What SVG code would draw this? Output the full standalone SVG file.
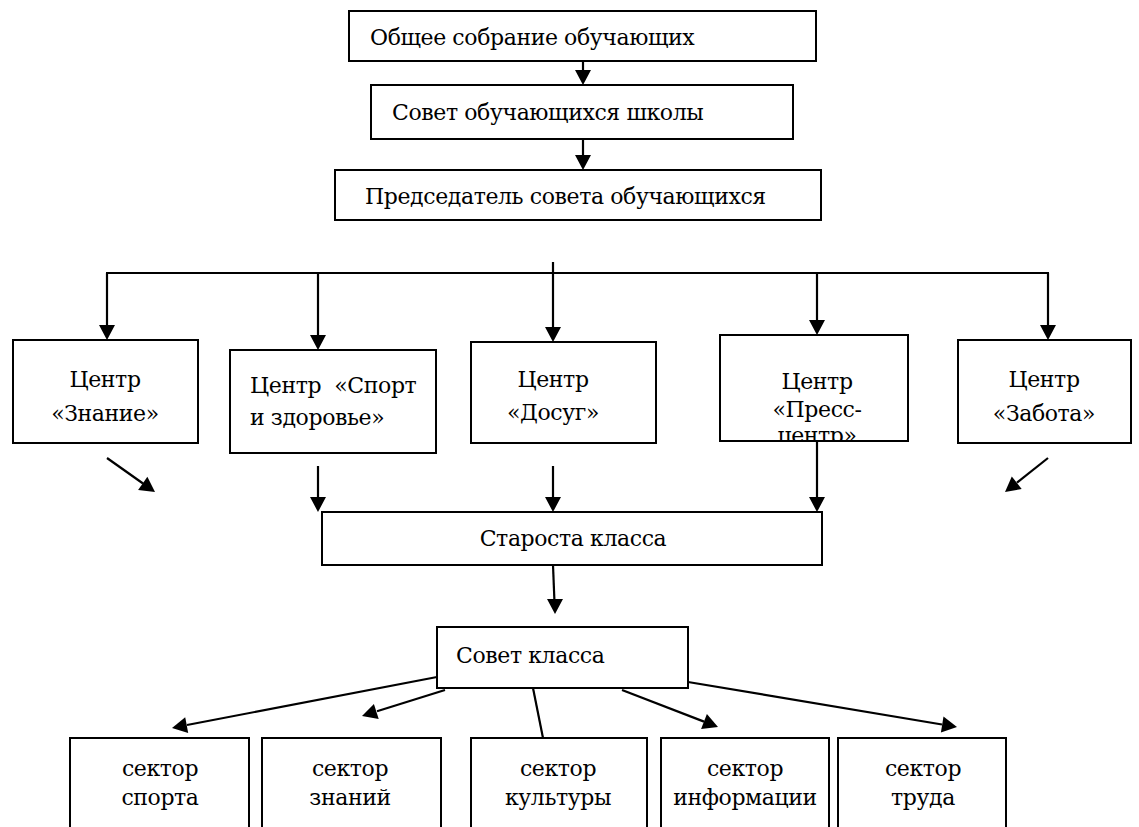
<svg xmlns="http://www.w3.org/2000/svg" width="1139" height="827" viewBox="0 0 1139 827">
<style>
.box{fill:#fff;stroke:#000;stroke-width:2}
text{font-family:'DejaVu Serif','Liberation Serif',serif;font-size:22px;letter-spacing:-0.4px;fill:#000}
.c{text-anchor:middle}
.ln{stroke:#000;stroke-width:2.2;fill:none}
.ah{fill:#000;stroke:none}
</style>
<defs>
<clipPath id="pc"><rect x="721" y="336" width="186" height="104"/></clipPath>
</defs>
<rect width="1139" height="827" fill="#fff"/>
<g id="connectors">
<line class="ln" x1="583" y1="61" x2="583" y2="71"/><polygon class="ah" points="575,70 591,70 583,85"/>
<line class="ln" x1="583" y1="139" x2="583" y2="156"/><polygon class="ah" points="575,155 591,155 583,170"/>
<line class="ln" x1="106" y1="273" x2="1049" y2="273"/>
<line class="ln" x1="553" y1="262" x2="553" y2="328"/><polygon class="ah" points="545,327 561,327 553,342"/>
<line class="ln" x1="107" y1="273" x2="107" y2="326"/><polygon class="ah" points="99,325 115,325 107,340"/>
<line class="ln" x1="318" y1="273" x2="318" y2="336"/><polygon class="ah" points="310,335 326,335 318,350"/>
<line class="ln" x1="817" y1="273" x2="817" y2="321"/><polygon class="ah" points="809,320 825,320 817,335"/>
<line class="ln" x1="1048" y1="273" x2="1048" y2="326"/><polygon class="ah" points="1040,325 1056,325 1048,340"/>
<line class="ln" x1="107" y1="458" x2="143" y2="483.5"/><polygon class="ah" points="138.1,489.9 147.4,476.8 155,492"/>
<line class="ln" x1="1048" y1="458" x2="1017" y2="482.7"/><polygon class="ah" points="1011.8,476.4 1021.7,489 1005,492"/>
<line class="ln" x1="318" y1="466" x2="318" y2="498"/><polygon class="ah" points="310,497 326,497 318,512"/>
<line class="ln" x1="553" y1="466" x2="553" y2="498"/><polygon class="ah" points="545,497 561,497 553,512"/>
<line class="ln" x1="817" y1="441" x2="817" y2="498"/><polygon class="ah" points="809,497 825,497 817,512"/>
<line class="ln" x1="553" y1="565" x2="554.4" y2="600"/><polygon class="ah" points="547,599 563,599 555,614"/>
<line class="ln" x1="437" y1="677" x2="187" y2="725"/><polygon class="ah" points="185.2,717.3 188.2,733.1 172,728"/>
<line class="ln" x1="445" y1="690" x2="377" y2="711.3"/><polygon class="ah" points="373.9,703.9 378.7,719.1 362,716"/>
<line class="ln" x1="533" y1="688" x2="543" y2="738"/>
<line class="ln" x1="622" y1="690" x2="704" y2="721.6"/><polygon class="ah" points="701.1,729.1 706.9,714.1 718,727"/>
<line class="ln" x1="688" y1="682" x2="942" y2="724.5"/><polygon class="ah" points="940.9,732.4 943.5,716.6 957,727"/>
</g>
<g id="n1"><rect class="box" x="349" y="11" width="467" height="50"/><text x="370" y="45">Общее собрание обучающих</text></g>
<g id="n2"><rect class="box" x="371" y="85" width="422" height="54"/><text x="392" y="120">Совет обучающихся школы</text></g>
<g id="n3"><rect class="box" x="335" y="170" width="486" height="50"/><text x="365" y="204">Председатель совета обучающихся</text></g>
<g id="c1"><rect class="box" x="13" y="340" width="185" height="103"/><text class="c" x="105" y="387">Центр</text><text class="c" x="105" y="421">«Знание»</text></g>
<g id="c2"><rect class="box" x="230" y="350" width="206" height="103"/><text x="250" y="393">Центр&#160; «Спорт</text><text x="250" y="425">и здоровье»</text></g>
<g id="c3"><rect class="box" x="471" y="342" width="185" height="101"/><text class="c" x="553" y="387">Центр</text><text class="c" x="553" y="420">«Досуг»</text></g>
<g id="c4"><rect class="box" x="720" y="335" width="188" height="106"/><g clip-path="url(#pc)"><text class="c" x="817" y="389">Центр</text><text class="c" x="817" y="417">«Пресс-</text><text class="c" x="817" y="443">центр»</text></g></g>
<g id="c5"><rect class="box" x="958" y="340" width="173" height="103"/><text class="c" x="1044" y="387">Центр</text><text class="c" x="1044" y="421">«Забота»</text></g>
<g id="st"><rect class="box" x="322" y="512" width="500" height="53"/><text class="c" x="573" y="546">Староста класса</text></g>
<g id="sk"><rect class="box" x="437" y="627" width="251" height="61"/><text x="456" y="663">Совет класса</text></g>
<g id="s1"><rect class="box" x="70" y="738" width="179" height="100"/><text class="c" x="160" y="776">сектор</text><text class="c" x="160" y="805">спорта</text></g>
<g id="s2"><rect class="box" x="262" y="738" width="179" height="100"/><text class="c" x="350" y="776">сектор</text><text class="c" x="350" y="805">знаний</text></g>
<g id="s3"><rect class="box" x="471" y="738" width="176" height="100"/><text class="c" x="558" y="776">сектор</text><text class="c" x="558" y="805">культуры</text></g>
<g id="s4"><rect class="box" x="661" y="738" width="168" height="100"/><text class="c" x="745" y="776">сектор</text><text class="c" x="745" y="805">информации</text></g>
<g id="s5"><rect class="box" x="838" y="738" width="168" height="100"/><text class="c" x="923" y="776">сектор</text><text class="c" x="923" y="805">труда</text></g>
</svg>
